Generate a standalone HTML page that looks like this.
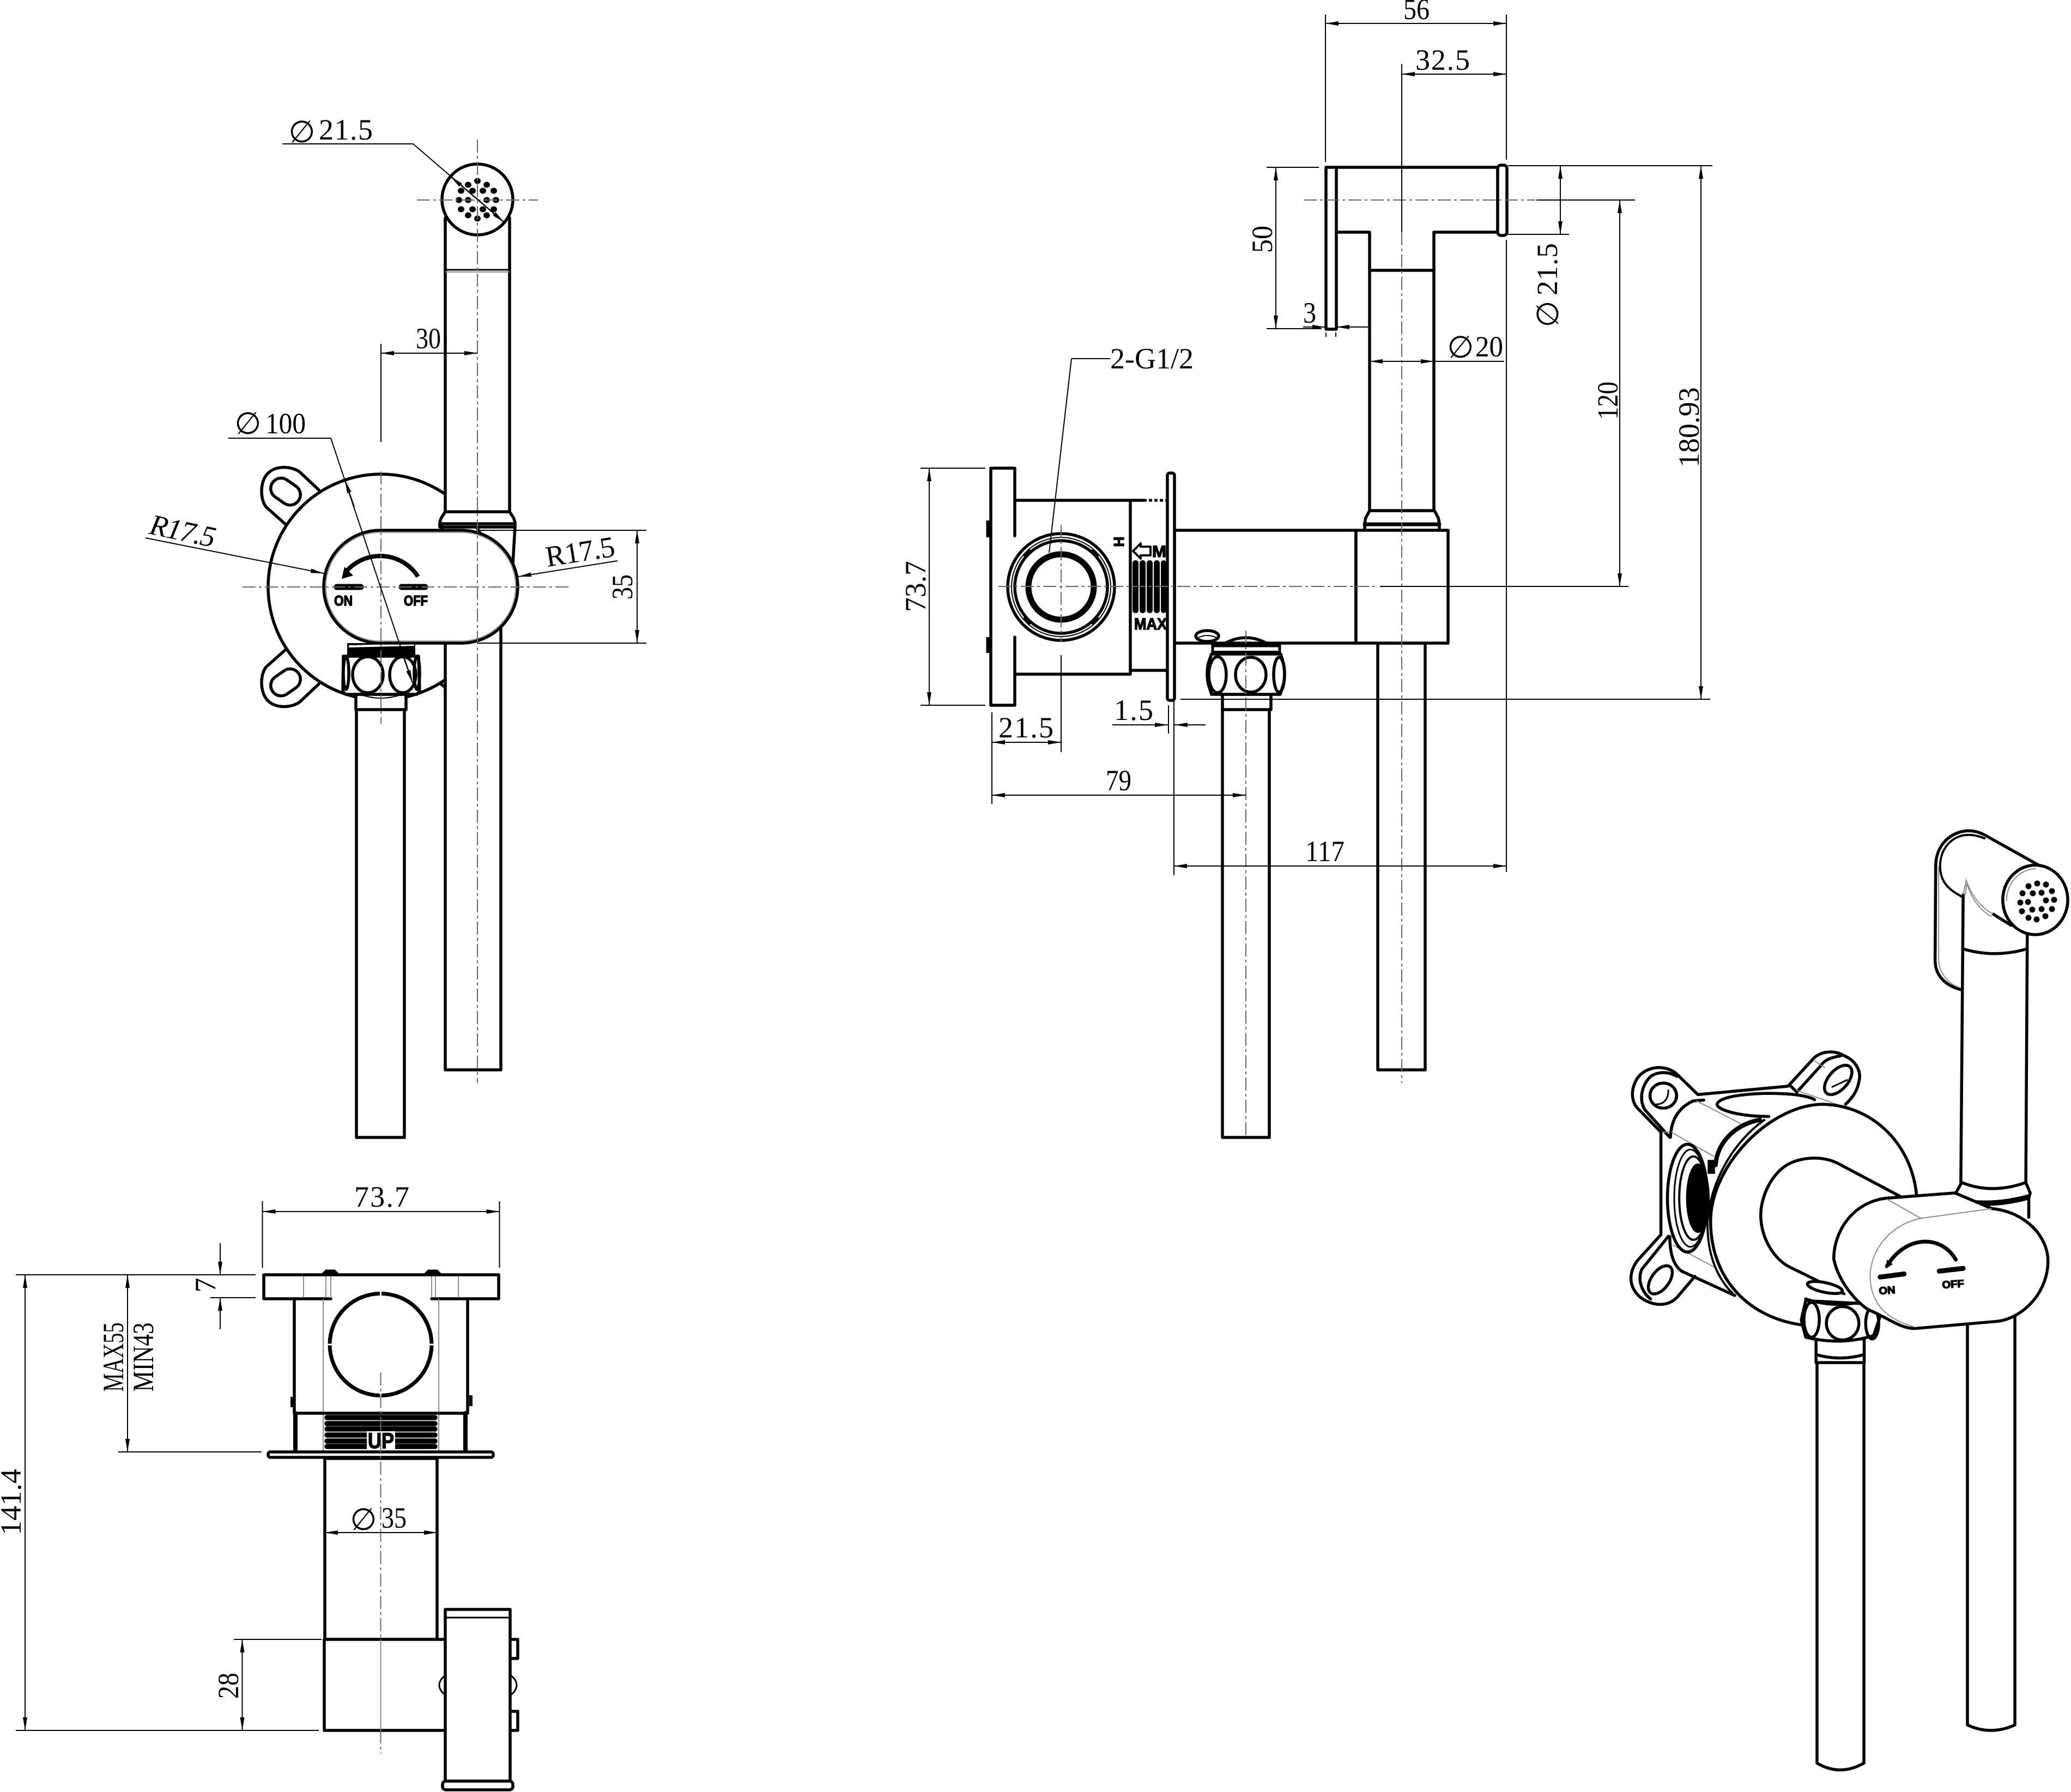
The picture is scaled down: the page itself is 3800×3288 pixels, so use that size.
<!DOCTYPE html>
<html><head><meta charset="utf-8"><title>Diagram</title>
<style>
html,body{margin:0;padding:0;background:#fff;overflow:hidden;width:3800px;height:3288px}
svg{display:block}
.o{fill:none;stroke:#000;stroke-width:5.5;stroke-linejoin:round;stroke-linecap:round}
.w{fill:#fff;stroke:#000;stroke-width:5.5;stroke-linejoin:round;stroke-linecap:round}
.t{fill:none;stroke:#000;stroke-width:2}
.d{fill:none;stroke:#000;stroke-width:2;marker-start:url(#a);marker-end:url(#a)}
.e{fill:none;stroke:#000;stroke-width:2;marker-end:url(#a)}
.c{fill:none;stroke:#7d5f63;stroke-width:2;stroke-dasharray:24 6 5 6}
.g{fill:none;stroke:#8a8d96;stroke-width:2}
text{font-family:"Liberation Serif",serif;font-size:54px;fill:#000}
.p{font-family:"DejaVu Sans",sans-serif;font-size:56px;text-anchor:middle}
.b{font-family:"Liberation Sans",sans-serif;font-weight:bold;stroke:#000;stroke-width:1.5}
.i *{vector-effect:non-scaling-stroke}
</style></head><body>
<svg xmlns="http://www.w3.org/2000/svg" width="3800" height="3288" viewBox="0 0 3800 3288">
<defs>
<marker id="a" viewBox="0 0 24 8" refX="24" refY="4" markerUnits="userSpaceOnUse" markerWidth="24" markerHeight="8" orient="auto-start-reverse"><path d="M0 0L24 4L0 8z" fill="#000"/></marker>
</defs>
<rect width="3800" height="3288" fill="#fff"/>

<!-- VIEW 1 front -->
<g>
<path class="o" d="M585 899L550 866C535 855 505 853 490 870C477 885 477 915 488 930L524 962"/>
<rect class="o" x="-29" y="-19" width="58" height="38" rx="19" transform="translate(524 902) rotate(35)"/>
<g transform="translate(0 2154) scale(1 -1)">
<path class="o" d="M585 899L550 866C535 855 505 853 490 870C477 885 477 915 488 930L524 962"/>
<rect class="o" x="-29" y="-19" width="58" height="38" rx="19" transform="translate(524 902) rotate(35)"/>
</g>
<circle class="w" cx="699" cy="1077" r="207"/>
<path d="M810 1256L832 1272" class="o"/>
<rect x="817" y="1150" width="102" height="813" class="w"/>
<path class="w" d="M817 941V400A65 65 0 0 1 935 400V941z"/>
<path d="M817 495H935" class="o" style="stroke-width:3"/><path d="M817 499H935" class="g"/>
<circle class="w" cx="876" cy="366" r="65"/>
<g fill="#000">
<ellipse cx="876" cy="332" rx="6" ry="5.5"/><ellipse cx="859" cy="339" rx="6" ry="5.5"/><ellipse cx="893" cy="339" rx="6" ry="5.5"/>
<ellipse cx="846" cy="350" rx="6" ry="5.5"/><ellipse cx="867" cy="350" rx="6" ry="5.5"/><ellipse cx="886" cy="350" rx="6" ry="5.5"/><ellipse cx="906" cy="350" rx="6" ry="5.5"/>
<ellipse cx="842" cy="367" rx="6" ry="5.5"/><ellipse cx="859" cy="367" rx="6" ry="5.5"/><ellipse cx="893" cy="367" rx="6" ry="5.5"/><ellipse cx="910" cy="367" rx="6" ry="5.5"/>
<ellipse cx="846" cy="384" rx="6" ry="5.5"/><ellipse cx="867" cy="384" rx="6" ry="5.5"/><ellipse cx="886" cy="384" rx="6" ry="5.5"/><ellipse cx="906" cy="384" rx="6" ry="5.5"/>
<ellipse cx="859" cy="395" rx="6" ry="5.5"/><ellipse cx="893" cy="395" rx="6" ry="5.5"/><ellipse cx="876" cy="401" rx="6" ry="5.5"/>
</g>
<path class="w" d="M817 939H935L941 948Q945 955 945 961V967H807V961Q807 955 811 948z"/>
<path class="o" d="M807 961H945M811 966V975M945 967L941 1034"/>
<rect class="w" x="654" y="1300" width="88" height="787"/>
<rect class="w" x="653" y="1274" width="92" height="28"/>
<path class="t" d="M660 1274Q699 1288 738 1274"/>
<path class="w" d="M630 1204H768L770 1268L765 1274H634L629 1268z"/>
<ellipse class="o" cx="675" cy="1238" rx="28" ry="33"/>
<ellipse class="o" cx="739" cy="1238" rx="24" ry="33"/>
<ellipse class="o" cx="635" cy="1235" rx="5" ry="30"/>
<ellipse class="o" cx="765" cy="1235" rx="5" ry="30"/>
<rect x="637" y="1180" width="125" height="22" fill="#000"/><path d="M640 1186L760 1183" stroke="#fff" stroke-width="4"/>
<rect class="w" x="594" y="973" width="356" height="207" rx="103.5"/>
<rect x="598" y="977" width="348" height="199" rx="99" fill="none" stroke="#888" stroke-width="1.5"/>
<path d="M767 1058A82.5 82.5 0 0 0 634 1050" fill="none" stroke="#000" stroke-width="8"/>
<path d="M627 1062L632 1040L648 1056z" fill="#000"/>
<path d="M618 1077H662M737 1077H780" stroke="#000" stroke-width="11" stroke-linecap="round"/>
<text class="b" x="613" y="1111" style="font-size:26px" textLength="34" lengthAdjust="spacingAndGlyphs">ON</text>
<text class="b" x="741" y="1111" style="font-size:26px" textLength="44" lengthAdjust="spacingAndGlyphs">OFF</text>
<path class="c" d="M876 256V1987M699 865V1328M445 1077H1044M765 367H987"/>
<!-- dims -->
<path class="t" d="M699 631V811M518 264H758L923 406M419 804H607L757 1253"/>
<path class="d" d="M827 324L925 408"/>
<path class="d" d="M699 648H876"/>
<path class="e" d="M650 930L633 881"/>
<path class="e" d="M735 1190L757 1253"/>
<path class="e" d="M267 987L594 1052"/>
<path class="e" d="M1133 1029L951 1058"/>
<path class="t" d="M876 973H1186M876 1180H1186"/>
<path class="d" d="M1169 973V1180"/>
<text class="p" x="554" y="261">∅</text>
<text x="585" y="256" textLength="99">21.5</text>
<text class="p" x="455" y="796">∅</text>
<text x="487" y="795" textLength="74" lengthAdjust="spacingAndGlyphs">100</text>
<text x="763" y="639" textLength="46" lengthAdjust="spacingAndGlyphs">30</text>
<text x="272" y="979" transform="rotate(12 272 979)" textLength="122" style="font-style:italic">R17.5</text>
<text x="1004" y="1040" transform="rotate(-9 1004 1040)" textLength="128">R17.5</text>
<text x="1160" y="1077" text-anchor="middle" transform="rotate(-90 1160 1077)" textLength="46" lengthAdjust="spacingAndGlyphs">35</text>
</g>

<!-- VIEW 2 side -->
<g>
<path class="w" d="M2433 307H2748V426H2631V937H2513V426H2452V604H2433z"/>
<path class="o" d="M2452 307V426M2513 496H2631"/>
<rect class="w" x="2748" y="303" width="17" height="129" rx="6"/>
<path class="w" d="M2513 937H2632L2639 950Q2641 958 2641 965V973H2504V965Q2504 958 2506 950z"/>
<path class="o" d="M2504 962H2641" style="stroke-width:7"/>
<rect class="w" x="2528" y="1180" width="87" height="783"/>
<rect class="w" x="2155" y="973" width="333" height="207"/>
<rect class="w" x="2488" y="973" width="169" height="207"/>
<path class="o" d="M1862 983V859H1818V1294H1862V1169M1862 918H2074V1237H1862"/>
<path class="o" d="M2074 918H2098"/><path d="M2098 918H2141" stroke="#000" stroke-width="5" stroke-dasharray="6 4"/>
<path class="o" d="M2074 1230H2141"/>
<rect class="w" x="2142" y="868" width="13" height="417" rx="4"/>
<path d="M1813 955V986M1813 1169V1198" stroke="#000" stroke-width="7"/>
<circle class="o" cx="1947" cy="1077" r="98"/>
<circle class="o" cx="1947" cy="1077" r="85"/>
<circle class="o" cx="1947" cy="1077" r="60" style="stroke-width:11"/>
<circle cx="1947" cy="1077" r="91" fill="none" stroke="#000" stroke-width="2"/>
<path class="o" d="M1880 1020L1889 1010M2014 1020L2005 1010M1880 1134L1889 1144M2014 1134L2005 1144" style="stroke-width:4"/>
<text class="b" transform="translate(2044 994) rotate(90)" x="0" y="0" text-anchor="middle" style="font-size:26px">H</text>
<path class="o" style="stroke-width:4" d="M2111 1003H2093V997L2079 1011L2093 1025V1019H2111z"/>
<text class="b" x="2114" y="1022" style="font-size:30px" textLength="26" lengthAdjust="spacingAndGlyphs">M</text>
<g fill="#000"><rect x="2078" y="1028" width="11" height="97" rx="5"/><rect x="2091" y="1028" width="11" height="97" rx="5"/><rect x="2104" y="1028" width="11" height="97" rx="5"/><rect x="2117" y="1028" width="11" height="97" rx="5"/><rect x="2130" y="1028" width="10" height="97" rx="5"/></g>
<text class="b" x="2081" y="1155" style="font-size:30px" textLength="60" lengthAdjust="spacingAndGlyphs">MAX</text>
<ellipse class="w" cx="2215" cy="1167" rx="21" ry="10"/><path class="t" d="M2195 1172Q2215 1160 2236 1172"/>
<rect class="w" x="2243" y="1300" width="86" height="787"/>
<rect class="w" x="2243" y="1274" width="89" height="28"/>
<path class="w" d="M2223 1274L2217 1255Q2213 1236 2217 1217L2223 1200H2350L2355 1217Q2359 1236 2355 1255L2349 1274z"/>
<ellipse class="o" cx="2234" cy="1238" rx="16" ry="33"/>
<ellipse class="o" cx="2295" cy="1238" rx="28" ry="32"/>
<ellipse class="o" cx="2347" cy="1238" rx="10" ry="32"/>
<path class="o" d="M2240 1185Q2286 1155 2332 1185"/>
<rect x="2225" y="1185" width="123" height="12" fill="#fff" stroke="#000" stroke-width="5"/>
<path d="M2228 1197H2346" stroke="#000" stroke-width="6"/>
<path class="c" d="M2572 426V1987M2392 367H2817M1832 1076H2523M1947 963V1177M2286 1157V2087"/>
<path class="t" d="M2432 27V297M2764 27V293M2764 440V1600M2572 118V426M2324 307H2420M2324 603H2425M2767 304H3142M2767 430H2879M2819 367H3000M2532 1076H2988M2166 1283H3138M1689 859H1808M1689 1294H1808M1820 1307V1475M1947 1202V1380M2144 1294V1346M2154 1285V1606M2433 610V618M2451 610V618M2631 663H2760M1966 658H2037M1966 658L1925 1014"/>
<path class="d" d="M2432 43H2764"/>
<path class="d" d="M2572 136H2764"/>
<path class="d" d="M2341 307V603"/>
<path class="e" d="M2391 600H2432"/><path class="e" d="M2513 600H2452"/>
<path class="d" d="M2863 304V430"/>
<path class="d" d="M2972 367V1076"/>
<path class="d" d="M3121 304V1283"/>
<path class="d" d="M2513 663H2631"/>
<path class="d" d="M1705 859V1294"/>
<path class="d" d="M1820 1362H1947"/>
<path class="e" d="M2041 1330H2143"/><path class="e" d="M2212 1330H2155"/>
<path class="d" d="M1820 1459H2286"/>
<path class="d" d="M2154 1589H2764"/>
<text x="2575" y="35" textLength="48" lengthAdjust="spacingAndGlyphs">56</text>
<text x="2597" y="128" textLength="100">32.5</text>
<text x="2334" y="439" text-anchor="middle" transform="rotate(-90 2334 439)" textLength="50" lengthAdjust="spacingAndGlyphs">50</text>
<text x="2391" y="592" textLength="24" lengthAdjust="spacingAndGlyphs">3</text>
<text x="2857" y="494" text-anchor="middle" textLength="96" transform="rotate(-90 2857 494)">21.5</text>
<text class="p" x="2859" y="576" transform="rotate(-90 2859 576)">∅</text>
<text class="p" x="2680" y="656">∅</text>
<text x="2707" y="654" textLength="51" lengthAdjust="spacingAndGlyphs">20</text>
<text x="2037" y="676" textLength="153">2-G1/2</text>
<text x="2968" y="735" text-anchor="middle" textLength="70" lengthAdjust="spacingAndGlyphs" transform="rotate(-90 2968 735)">120</text>
<text x="3117" y="784" text-anchor="middle" textLength="147" lengthAdjust="spacingAndGlyphs" transform="rotate(-90 3117 784)">180.93</text>
<text x="1698" y="1076" text-anchor="middle" textLength="94" lengthAdjust="spacingAndGlyphs" transform="rotate(-90 1698 1076)">73.7</text>
<text x="1832" y="1353" textLength="101">21.5</text>
<text x="2044" y="1321" textLength="72">1.5</text>
<text x="2029" y="1450" textLength="47" lengthAdjust="spacingAndGlyphs">79</text>
<text x="2395" y="1580" textLength="72" lengthAdjust="spacingAndGlyphs">117</text>
</g>

<!-- VIEW 3 bottom -->
<g>
<path class="o" d="M607 2383H484V2339H915V2383H792"/>
<path d="M592 2337L598 2331H614L620 2337zM780 2337L786 2331H802L808 2337z" fill="#000" stroke="#000" stroke-width="3"/>
<path class="g" d="M557 2342V2381M598 2342V2381M607 2342V2381M792 2342V2381M799 2342V2381M841 2342V2381M593 2383V2662M805 2383V2662"/>
<path class="o" d="M540 2383V2593H858V2383"/>
<path d="M536 2563V2582M864 2560V2580" stroke="#000" stroke-width="6"/>
<circle class="o" cx="698.5" cy="2467" r="93.5" style="stroke-width:7"/>
<path d="M698.5 2368V2380M698.5 2554V2566M598 2467H610M787 2467H799" stroke="#fff" stroke-width="3"/>
<path class="o" d="M542 2593V2662M854 2593V2662" style="stroke-width:8"/>
<g stroke="#000" stroke-width="9.5" stroke-linecap="round">
<path d="M600 2601H798M600 2612H798M600 2622H798M600 2633H798M600 2644H798M600 2654H798"/>
</g>
<rect x="673" y="2626" width="52" height="36" fill="#fff"/>
<text class="b" x="675" y="2657" style="font-size:40px" textLength="48" lengthAdjust="spacingAndGlyphs">UP</text>
<rect class="w" x="492" y="2664" width="413" height="10" rx="4"/>
<rect class="w" x="596" y="2676" width="206" height="332"/>
<rect class="w" x="595" y="3008" width="225" height="167"/>
<ellipse class="o" cx="877" cy="3092" rx="71" ry="34" style="stroke-width:3"/>
<path class="o" d="M936 3008H950V3043H936M936 3140H950V3175H936"/>
<rect class="w" x="817" y="2953" width="119" height="320"/>
<path class="o" d="M817 2968H936" style="stroke-width:3"/>
<rect class="w" x="812" y="3268" width="129" height="16" rx="6"/>
<path class="c" d="M698.5 2518V3008M698.5 3175V3218"/>
<path class="g" d="M698.5 3008V3175"/>
<path class="t" d="M481.5 2204V2326M916.5 2204V2326M29 2339H469M386 2381H469M29 3175H585M217 2664H480M429 3008H590M400 3175H585"/>
<path class="d" d="M481.5 2223H916.5"/>
<path class="e" d="M404 2281V2339"/><path class="e" d="M404 2439V2381"/>
<path class="d" d="M46 2339V3175"/>
<path class="d" d="M234 2339V2664"/>
<path class="d" d="M596 2812H802"/>
<path class="d" d="M444.5 3008V3175"/>
<text x="650" y="2214" textLength="101">73.7</text>
<text x="395" y="2358" text-anchor="middle" transform="rotate(-90 395 2358)">7</text>
<text x="38" y="2756" text-anchor="middle" textLength="122" transform="rotate(-90 38 2756)">141.4</text>
<text x="226" y="2490" text-anchor="middle" textLength="127" lengthAdjust="spacingAndGlyphs" transform="rotate(-90 226 2490)">MAX55</text>
<text x="281" y="2490" text-anchor="middle" textLength="127" lengthAdjust="spacingAndGlyphs" transform="rotate(-90 281 2490)">MIN43</text>
<text class="p" x="667" y="2807">∅</text>
<text x="700" y="2803" textLength="46" lengthAdjust="spacingAndGlyphs">35</text>
<text x="437" y="3093" text-anchor="middle" textLength="48" lengthAdjust="spacingAndGlyphs" transform="rotate(-90 437 3093)">28</text>
</g>

<!-- VIEW 4 isometric -->
<path class="w" d="M3334 2290V3235Q3376 3260 3420 3235V2290z"/>
<path class="w" d="M3610 2300V3165Q3653 3185 3697 3165V2300z"/>
<g class="i" transform="translate(2950 1500) scale(0.5421 0.6378)">
<path class="o" d="M1195 495C1150 485 1108 460 1108 410L1110 140C1110 80 1160 40 1220 38C1240 38 1260 43 1275 50L1465 140"/>
<path class="o" d="M1203 230C1160 210 1125 190 1125 140C1125 85 1170 50 1220 50C1240 50 1255 53 1275 60" style="stroke-width:4"/>
<path class="g" d="M1120 140V410C1122 445 1150 480 1195 490"/>
<path class="w" d="M1195 1060L1203 222L1213 180C1235 230 1265 260 1305 278L1365 310L1420 338L1415 1060z" style="stroke:none"/>
<path class="o" d="M1195 1060L1203 222M1420 338L1415 1060M1305 278L1365 310M1203 378Q1310 405 1418 378"/>
<path class="g" d="M1203 222L1213 180C1235 230 1265 260 1305 278M1210 222L1215 190C1235 240 1265 270 1300 285"/>
<ellipse class="w" cx="1447" cy="237" rx="110" ry="100"/>
<path class="g" d="M1350 240C1350 190 1390 150 1450 147"/>
<path class="o" d="M305 797L610 773L700 690C730 670 770 670 800 685C840 700 860 730 850 760C845 785 830 805 805 825"/>
<path class="o" d="M620 773L640 790L720 715C735 695 760 690 790 685"/>
<path class="g" d="M640 785L775 825M700 700L735 720"/>
<ellipse class="o" cx="780" cy="755" rx="55" ry="30" transform="rotate(-40 780 755)"/>
<path class="o" d="M760 775L810 755" style="stroke-width:3"/>
<path class="o" d="M545 860C440 860 370 840 370 825C375 800 500 790 600 795C650 797 690 805 700 812"/>
<path class="o" d="M305 797L230 735C190 710 130 715 100 750C75 785 80 820 105 840L180 905"/>
<path class="o" d="M210 920L125 840C105 810 115 770 145 745C170 730 205 730 235 745"/>
<ellipse class="o" cx="188" cy="800" rx="45" ry="36"/>
<path class="o" d="M165 825C190 825 205 810 205 785" style="stroke-width:3"/>
<path class="o" d="M325 813L290 815C250 830 215 860 212 920"/>
<path class="g" d="M180 905L210 905M300 815L460 885M215 905L360 975M220 1230L365 1295"/>
<path class="o" d="M180 905V1200L100 1275C70 1310 70 1350 110 1380C150 1405 200 1410 235 1380L295 1320"/>
<path class="o" d="M205 1205L115 1300C100 1330 115 1365 145 1385"/>
<ellipse class="o" cx="178" cy="1330" rx="50" ry="28" transform="rotate(-45 178 1330)"/>
<path class="o" d="M210 1205C210 1260 225 1290 250 1305L430 1375"/>
<ellipse class="o" cx="270" cy="1095" rx="68" ry="155"/>
<ellipse class="o" cx="280" cy="1095" rx="55" ry="140" style="stroke-width:3"/>
<ellipse class="o" cx="290" cy="1095" rx="48" ry="120" style="stroke-width:4"/>
<ellipse cx="305" cy="1095" rx="40" ry="100" fill="#000"/>
<rect x="338" y="985" width="25" height="40" fill="#000"/>
<path class="o" d="M515 870C440 880 370 930 365 1000" style="stroke-width:8"/>
<path class="w" d="M1045 1085C1030 950 910 830 730 825C550 825 350 1000 348 1160C348 1330 480 1440 660 1460L1000 1400z" style="stroke:none"/>
<path class="o" d="M1045 1085C1030 950 910 830 730 825C550 825 350 1000 348 1160C348 1330 480 1440 660 1460"/>
<path class="o" d="M530 870C430 930 350 1040 338 1160C335 1240 360 1320 430 1375" style="stroke-width:4"/>
<path class="o" d="M990 1090L790 1000C740 975 680 975 630 990C560 1010 515 1090 518 1150C522 1220 570 1275 620 1295L800 1370"/>
<path class="w" d="M705 1500V1568H868V1500z"/>
<path class="o" d="M705 1545Q785 1565 868 1545"/>
<path class="w" d="M670 1390L655 1445L670 1495Q790 1520 900 1490L920 1440L900 1400z"/>
<ellipse class="o" cx="690" cy="1445" rx="26" ry="50"/>
<ellipse class="o" cx="795" cy="1455" rx="55" ry="48"/>
<ellipse class="o" cx="895" cy="1455" rx="22" ry="45"/>
<ellipse class="w" cx="735" cy="1352" rx="60" ry="14" transform="rotate(10 735 1352)"/>
<path class="o" d="M670 1385Q760 1410 850 1395"/>
<path class="w" d="M1198 1050L1175 1085L1180 1105Q1300 1125 1425 1095L1430 1080L1415 1050Q1300 1085 1198 1050z"/>
<path class="o" d="M1180 1098Q1300 1118 1425 1088M1425 1095V1150"/>
<path class="w" d="M945 1095L1175 1080L1300 1125C1420 1135 1490 1210 1490 1275C1490 1370 1400 1445 1310 1450L1040 1470C990 1470 950 1440 880 1415C830 1385 780 1330 765 1270C765 1190 830 1105 945 1095z"/>
<path class="g" d="M1060 1153C960 1170 890 1240 888 1320C890 1390 930 1440 1040 1466M1060 1153L1300 1125M945 1098L1060 1153"/>
<path class="o" d="M1178 1272C1130 1200 1010 1200 945 1290" style="stroke-width:7"/>
<path d="M940 1298L945 1272L965 1285z" fill="#000"/>
<path class="o" d="M922 1322L1003 1313M1122 1305L1203 1297" style="stroke-width:9"/>
</g>
<text class="b" x="3448" y="2375" style="font-size:19px" textLength="30" lengthAdjust="spacingAndGlyphs" transform="rotate(-4 3448 2375)">ON</text>
<text class="b" x="3564" y="2364" style="font-size:19px" textLength="40" lengthAdjust="spacingAndGlyphs" transform="rotate(-4 3564 2364)">OFF</text>
<g fill="#000">
<circle cx="3738" cy="1621" r="5.5"/><circle cx="3754" cy="1623" r="5.5"/><circle cx="3765" cy="1635" r="5.5"/><circle cx="3769" cy="1651" r="5.5"/><circle cx="3765" cy="1668" r="5.5"/><circle cx="3753" cy="1681" r="5.5"/><circle cx="3737" cy="1687" r="5.5"/><circle cx="3722" cy="1684" r="5.5"/><circle cx="3710" cy="1672" r="5.5"/><circle cx="3707" cy="1656" r="5.5"/><circle cx="3711" cy="1639" r="5.5"/><circle cx="3722" cy="1626" r="5.5"/><circle cx="3730" cy="1639" r="5.5"/><circle cx="3746" cy="1638" r="5.5"/><circle cx="3754" cy="1652" r="5.5"/><circle cx="3746" cy="1668" r="5.5"/><circle cx="3729" cy="1669" r="5.5"/><circle cx="3721" cy="1655" r="5.5"/>
</g>
</svg>
</body></html>
